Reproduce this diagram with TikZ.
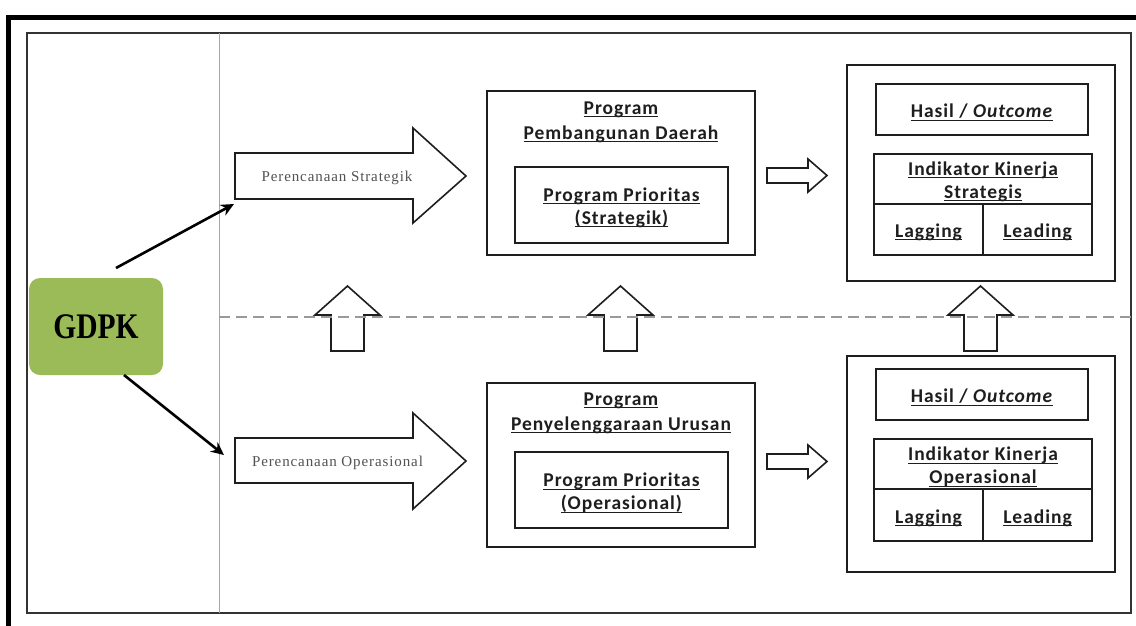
\documentclass[tikz,border=0pt]{standalone}
\usepackage{fontspec}
\usetikzlibrary{arrows.meta}
\setmainfont{Carlito}
\newfontfamily\cbf[LetterSpace=5]{Carlito}
\newfontfamily\tms[LetterSpace=6]{Liberation Serif}
\newfontfamily\gdpkf[FakeStretch=0.82]{Liberation Serif}
\newcommand{\uln}[1]{\leavevmode\setbox0=\hbox{#1}\rlap{\rule[-2.8pt]{\wd0}{1pt}}\box0}
\definecolor{gdpkgreen}{HTML}{9BBB59}
\definecolor{ink}{HTML}{1E1E1E}
\tikzset{
  box/.style={draw=ink, line width=1.7pt, fill=white, inner sep=0pt},
  lbl/.style={font=\cbf\bfseries\fontsize{19.5}{25}\selectfont, text=ink, align=center, inner sep=0pt},
  tl/.style={font=\cbf\bfseries\fontsize{19.5}{23}\selectfont, text=ink, align=center, inner sep=0pt, yshift=-3pt},
  blk/.style={draw=ink, line width=1.6pt, fill=white, line join=miter},
  ptext/.style={font=\tms\fontsize{15}{16}\selectfont, text=black!68, inner sep=0pt},
  conn/.style={line width=2.6pt, black, -{Stealth[length=13pt,width=12pt]}},
}
\begin{document}
\begin{tikzpicture}[x=1pt,y=-1pt]
\useasboundingbox (0,0) rectangle (1136,625);
% frames
\draw[line width=4.5pt, black] (8.5,630) -- (8.5,17.5) -- (1140,17.5);
\draw[line width=1.8pt, black!80] (27,33) rectangle (1131,613);
\draw[line width=0.8pt, black!35] (219,33) -- (219,613);

% GDPK
\node[fill=gdpkgreen, rounded corners=11pt, minimum width=134pt, minimum height=97pt,
      inner sep=0pt, font=\gdpkf\bfseries\fontsize{36}{38}\selectfont] (gdpk) at (96,326.5) {GDPK};

% big arrows
\draw[blk] (235,153) -- (413,153) -- (413,128) -- (466,176) -- (413,223) -- (413,199) -- (235,199) -- cycle;
\coordinate (ps-in) at (234,204);
\node[ptext] (ps) at (337,178) {Perencanaan Strategik};
\draw[blk] (235,438) -- (413,438) -- (413,413) -- (466,461) -- (413,509) -- (413,483) -- (235,483) -- cycle;
\coordinate (po-in) at (224,455);
\node[ptext] (po) at (337.5,463) {Perencanaan Operasional};

\coordinate (g-up) at (116,268);
\coordinate (g-dn) at (124,375);
\draw[conn] (g-up) -- (ps-in);
\draw[conn] (g-dn) -- (po-in);

% middle top
\node[box, minimum width=268pt, minimum height=164pt] (pbd) at (621,173) {};
\node[lbl] (pbdt) at (621,122.5) {\uln{Program}\\\uln{Pembangunan Daerah}};
\node[box, minimum width=213pt, minimum height=76pt] (pps) at (621.5,205) {};
\node[tl] (ppst) at (pps.center) {\uln{Program Prioritas}\\\uln{(Strategik)}};

% middle bottom
\node[box, minimum width=268pt, minimum height=164pt] (ppu) at (621,465) {};
\node[lbl] (pput) at (621,413.5) {\uln{Program}\\\uln{Penyelenggaraan Urusan}};
\node[box, minimum width=213pt, minimum height=76pt] (ppo) at (621.5,490) {};
\node[tl] (ppot) at (ppo.center) {\uln{Program Prioritas}\\\uln{(Operasional)}};

% right top
\node[box, minimum width=268pt, minimum height=216pt] (rt) at (981,173) {};
\node[box, minimum width=212pt, minimum height=51pt] (hs) at (982,109.5) {};
\node[tl] (hst) at (hs.center) {\uln{Hasil / \textit{Outcome}}};
\node[box, minimum width=218pt, minimum height=50pt] (iks) at (983,179) {};
\node[tl] (ikst) at (iks.center) {\uln{Indikator Kinerja}\\\uln{Strategis}};
\node[box, minimum width=109pt, minimum height=51pt] (lags) at (928.5,229.5) {};
\node[tl] (lagst) at (lags.center) {\uln{Lagging}};
\node[box, minimum width=109pt, minimum height=51pt] (leas) at (1037.5,229.5) {};
\node[tl] (least) at (leas.center) {\uln{Leading}};

% right bottom
\node[box, minimum width=268pt, minimum height=216pt] (rb) at (981,464) {};
\node[box, minimum width=212pt, minimum height=51pt] (ho) at (982,394.5) {};
\node[tl] (hot) at (ho.center) {\uln{Hasil / \textit{Outcome}}};
\node[box, minimum width=218pt, minimum height=50pt] (iko) at (983,464) {};
\node[tl] (ikot) at (iko.center) {\uln{Indikator Kinerja}\\\uln{Operasional}};
\node[box, minimum width=109pt, minimum height=52pt] (lago) at (928.5,515) {};
\node[tl] (lagot) at (lago.center) {\uln{Lagging}};
\node[box, minimum width=109pt, minimum height=52pt] (leao) at (1037.5,515) {};
\node[tl] (leaot) at (leao.center) {\uln{Leading}};

% small right arrows
\draw[blk] (767,168) -- (808,168) -- (808,159) -- (827,175.5) -- (808,192) -- (808,183) -- (767,183) -- cycle;
\draw[blk] (767,454) -- (808,454) -- (808,445) -- (827,461.5) -- (808,478) -- (808,469) -- (767,469) -- cycle;

% up arrows
\draw[blk] (331,351) -- (331,315) -- (315,315) -- (347.5,286) -- (380,315) -- (364,315) -- (364,351) -- cycle;
\draw[blk] (604,351) -- (604,315) -- (588,315) -- (620.5,286) -- (653,315) -- (637,315) -- (637,351) -- cycle;
\draw[blk] (964,351) -- (964,315) -- (948,315) -- (980.5,286) -- (1013,315) -- (997,315) -- (997,351) -- cycle;
\draw[line width=2pt, black!40, dash pattern=on 11pt off 6pt] (219,317) -- (1131,317);
\end{tikzpicture}
\end{document}
